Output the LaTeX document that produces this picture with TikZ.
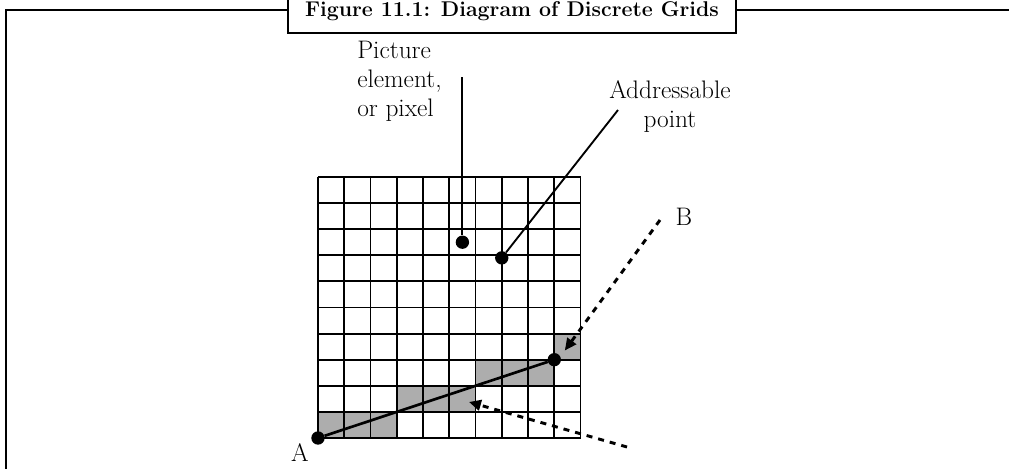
\documentclass[tikz,border=0pt]{standalone}
\usetikzlibrary{arrows.meta}

\definecolor{cellgray}{gray}{0.68}

\begin{document}
\begin{tikzpicture}[x=0.75pt,y=-0.75pt,
      frame/.style={draw,line width=1.8pt},
      titlebox/.style={draw,fill=white,line width=1.5pt,minimum width=336pt,minimum height=33pt,inner sep=0pt,font=\bfseries\fontsize{16}{19}\selectfont},
      lbl/.style={inner sep=0pt,font=\fontsize{19}{21.75}\selectfont},
      gridline/.style={line width=1.4pt},
      pointdot/.style={circle,fill,inner sep=0pt,minimum size=10pt},
      segline/.style={line width=2pt},
      leader/.style={line width=1.4pt},
      ptr/.style={-{Triangle[length=9pt,width=8pt]},line width=2.2pt,dash pattern=on 4.5pt off 4.5pt}
    ]
      \useasboundingbox (0,0) rectangle (1009,468);
      \clip (0,0) rectangle (1009,468);
      % outer frame, only left and top edges are inside the page
      \draw[frame] (6,490) -- (6,10) -- (1030,10);
      \node[titlebox] (title) at (512,11) {Figure 11.1: Diagram of Discrete Grids};

      % the raster
      \begin{scope}[shift={(318,438)},x=19.69pt,y=19.58pt]
        \fill[cellgray] (0,0) rectangle (3,1);
        \fill[cellgray] (3,1) rectangle (6,2);
        \fill[cellgray] (6,2) rectangle (9,3);
        \fill[cellgray] (9,3) rectangle (10,4);
        \foreach \i in {0,...,10} {
          \draw[gridline] (\i,0) -- (\i,10);
          \draw[gridline] (0,\i) -- (10,\i);
        }
        \node[pointdot] (A) at (0,0) {};
        \node[pointdot] (P) at (9,3) {};
        \node[pointdot] (pix) at (5.5,7.5) {};
        \node[pointdot] (addr) at (7,6.9) {};
        \coordinate (btip) at (9.4,3.35);
        \coordinate (ctip) at (5.75,1.38);
      \end{scope}
      \draw[segline] (A) -- (P);

      % labels
      \node[lbl,align=left,anchor=west] (pixlbl) at (357,81) {Picture\\element,\\or pixel};
      \node[lbl,align=center] (addrlbl) at (670,107) {Addressable\\point};
      \node[lbl] (Alabel) at (300,453) {A};
      \node[lbl] (Blabel) at (684,217) {B};

      \coordinate (pixtop) at (pix |- 0,77);
      \coordinate (addrtop) at (618,110);
      \draw[leader] (pixtop) -- (pix);
      \draw[leader] (addrtop) -- (addr);

      % dotted pointers
      \coordinate (btail) at (660,220);
      \coordinate (ctail) at (627,447);
      \draw[ptr] (btail) -- (btip);
      \draw[ptr] (ctail) -- (ctip);
    \end{tikzpicture}
\end{document}
